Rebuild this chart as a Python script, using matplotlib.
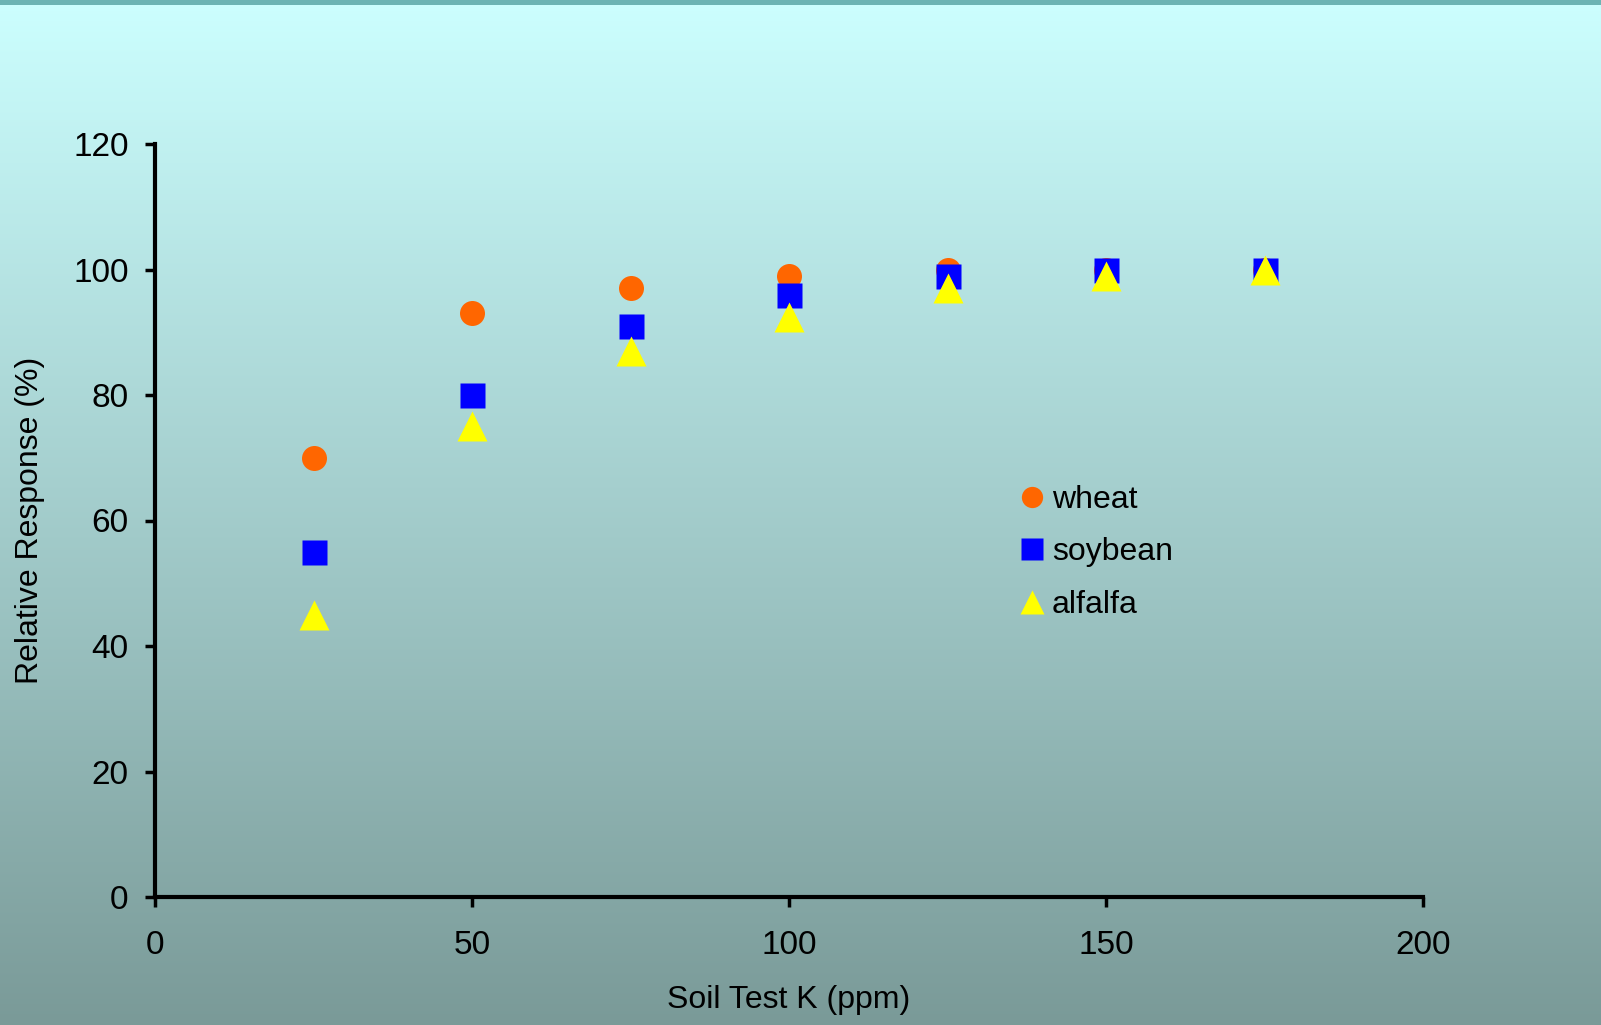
import numpy as np
import matplotlib
matplotlib.use('Agg')
import matplotlib.pyplot as plt

# =============================================================================
# --- Données ------------------------------------------------
# =============================================================================

soil_k = [25, 50, 75, 100, 125, 150, 175]  # Soil Test K (ppm)

wheat = [70, 93, 97, 99, 100, 100, 100]
soybean = [55, 80, 91, 96, 99, 100, 100]
alfalfa = [45, 75, 87, 92.5, 97, 99, 100]

x_ticks = [0, 50, 100, 150, 200]
y_ticks = [0, 20, 40, 60, 80, 100, 120]

plt.rcParams['font.family'] = ['Liberation Sans', 'DejaVu Sans']

# =============================================================================
# --- Figure et fond en dégradé ------------------------------------------
# =============================================================================
W, H = 1601, 1025
fig = plt.figure(figsize=(W / 100, H / 100), dpi=100)

top = np.array([204, 255, 255]) / 255
bottom = np.array([122, 154, 152]) / 255
t = np.linspace(0, 1, 512)[:, None]
grad = (top + (bottom - top) * t)[:, None, :]

bg = fig.add_axes([0, 0, 1, 1], zorder=-10)
bg.imshow(grad, aspect='auto', extent=[0, 1, 0, 1])
bg.axhspan(1 - 5 / H, 1, color='#6cb4b4', lw=0)
bg.set_xlim(0, 1)
bg.set_ylim(0, 1)
bg.axis('off')

ax = fig.add_axes([155 / W, 1 - 897 / H, (1423 - 155) / W, (897 - 144) / H])
ax.patch.set_visible(False)

# =============================================================================
# --- Séries ------------------------------------------
# =============================================================================
ax.plot(soil_k, wheat, linestyle='none', marker='o', ms=18, color='#ff6600',
        mec='none', label='wheat', clip_on=False, zorder=3)
ax.plot(soil_k, soybean, linestyle='none', marker='s', ms=18, color='#0000ff',
        mec='none', label='soybean', clip_on=False, zorder=4)
ax.plot(soil_k, alfalfa, linestyle='none', marker='^', ms=21, color='#ffff00',
        mec='none', label='alfalfa', clip_on=False, zorder=5)

ax.set_xlim(0, 200)
ax.set_ylim(0, 120)
ax.set_xticks(x_ticks)
ax.set_yticks(y_ticks)

for s in ['top', 'right']:
    ax.spines[s].set_visible(False)
for s in ['left', 'bottom']:
    ax.spines[s].set_linewidth(3)
ax.tick_params(axis='both', length=7, width=2.5, labelsize=24, direction='out')
ax.tick_params(axis='y', pad=12)
ax.tick_params(axis='x', pad=17)

ax.set_xlabel('Soil Test K (ppm)', fontsize=23, labelpad=17)
ax.set_ylabel('Relative Response (%)', fontsize=23, labelpad=20)

ax.legend(loc='upper left', bbox_to_anchor=(1016 / W, 1 - 485 / H),
          bbox_transform=fig.transFigure, frameon=False, fontsize=23,
          handlelength=1.0, handletextpad=0.13, labelspacing=0.7,
          borderpad=0, borderaxespad=0, markerscale=0.85)

fig.savefig('out.png', dpi=100)
